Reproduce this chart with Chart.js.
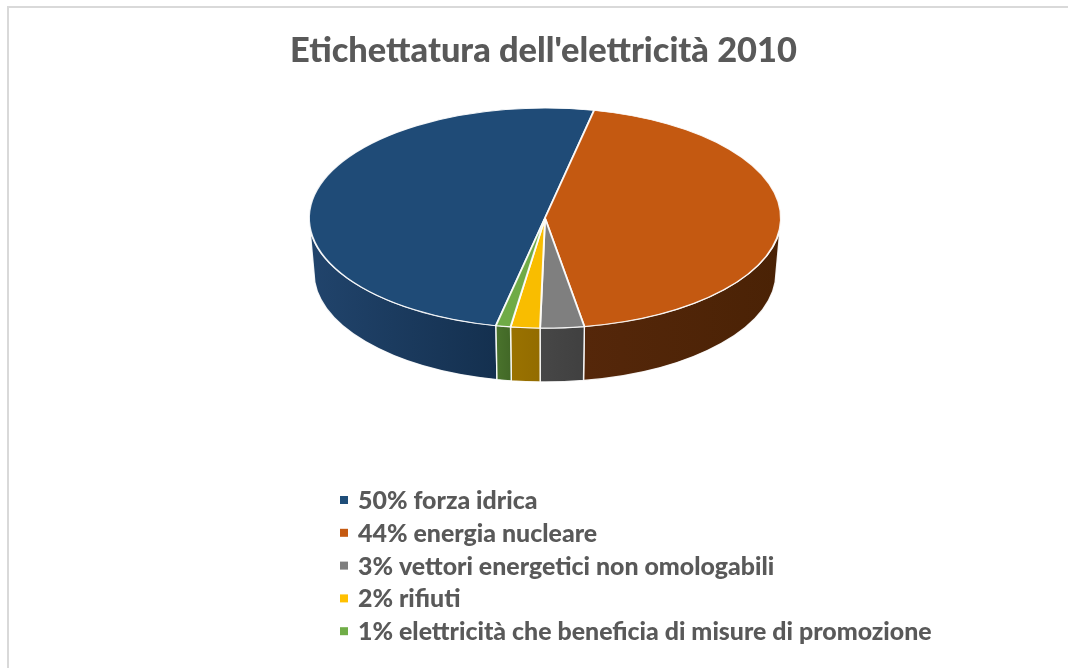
<!DOCTYPE html>
<html>
<head>
<meta charset="utf-8">
<script src="https://cdn.jsdelivr.net/npm/chart.js@4.4.1/dist/chart.umd.min.js"></script>
<style>
  html, body { margin: 0; padding: 0; background: #ffffff; }
  canvas { display: block; }
</style>
</head>
<body>
<canvas id="c" width="1068" height="668"></canvas>
<script>
// ---- data ----
const chartTitle = "Etichettatura dell'elettricità 2010";
const categories = [
  '50% forza idrica',
  '44% energia nucleare',
  '3% vettori energetici non omologabili',
  '2% rifiuti',
  '1% elettricità che beneficia di misure di promozione'
];
const values = [50, 44, 3, 2, 1];

// ---- styles ----
const topColors = ['#1f4b77', '#c45911', '#7f7f7f', '#f9bd00', '#6fab46'];
const legendColors = ['#1f4e79', '#c55a11', '#7f7f7f', '#ffc000', '#70ad47'];
const sideLight = ['#21446c', '#55270a', '#474747', '#9a7200', '#4a732c'];
const sideDark = ['#14304f', '#4a2205', '#404040', '#936c00', '#426827'];
const FONT = 'Lato, "Open Sans", sans-serif';
const WEIGHT = '900';
const TEXT_COLOR = '#595959';

const geo = { cx: 545, cy: 218, rx: 236, ry: 110, depth: 55, rx2: 231, ry2: 109 };

function fitSize(text, target) {
  const m = document.createElement('canvas').getContext('2d');
  m.font = WEIGHT + ' 100px ' + FONT;
  return 100 * target / m.measureText(text).width;
}
const titleSize = fitSize(chartTitle, 507);
const longest = categories.reduce((a, b) => (a.length > b.length ? a : b));
const legendSize = fitSize(longest, 574);

const frame = {
  id: 'frame',
  beforeDraw(chart) {
    const ctx = chart.ctx;
    ctx.save();
    ctx.fillStyle = '#ffffff';
    ctx.fillRect(0, 0, chart.width, chart.height);
    ctx.fillStyle = '#d9d9d9';
    ctx.fillRect(7, 6, chart.width - 7, 2);
    ctx.fillRect(7, 6, 2, chart.height - 6);
    ctx.restore();
  }
};

const pie3d = {
  id: 'pie3d',
  beforeDatasetsDraw(chart) {
    const ctx = chart.ctx;
    const meta = chart.getDatasetMeta(0);
    const { cx, cy, rx, ry, depth, rx2, ry2 } = geo;
    ctx.save();
    meta.data.forEach((el, i) => {
      const s0 = el.startAngle, e0 = el.endAngle;
      for (let k = -2; k <= 2; k++) {
        const s = Math.max(s0 + 2 * Math.PI * k, 0);
        const e = Math.min(e0 + 2 * Math.PI * k, Math.PI);
        if (e <= s) continue;
        const xa = cx + rx * Math.cos(s), xb = cx + rx * Math.cos(e);
        const g = ctx.createLinearGradient(Math.min(xa, xb), 0, Math.max(xa, xb) + 0.01, 0);
        g.addColorStop(0, sideLight[i]);
        g.addColorStop(1, sideDark[i]);
        ctx.beginPath();
        ctx.ellipse(cx, cy, rx, ry, 0, s, e, false);
        ctx.ellipse(cx, cy + depth, rx2, ry2, 0, e, s, true);
        ctx.closePath();
        ctx.fillStyle = g;
        ctx.fill();
        ctx.strokeStyle = 'rgba(255,255,255,0.9)';
        ctx.lineWidth = 1.4;
        ctx.stroke();
      }
    });
    ctx.restore();
    // map the library's circular pie onto the top ellipse
    const el = meta.data[0];
    const R = el.outerRadius;
    ctx.save();
    ctx.translate(cx, cy);
    ctx.scale(rx / R, ry / R);
    ctx.translate(-el.x, -el.y);
  },
  afterDatasetsDraw(chart) {
    chart.ctx.restore();
  }
};

const listLegend = {
  id: 'listLegend',
  afterDraw(chart) {
    const ctx = chart.ctx;
    ctx.save();
    ctx.font = WEIGHT + ' ' + legendSize + 'px ' + FONT;
    ctx.textBaseline = 'middle';
    ctx.textAlign = 'left';
    categories.forEach((label, i) => {
      const y = 500 + i * 32.8;
      ctx.fillStyle = legendColors[i];
      ctx.fillRect(340, y - 4, 8, 8);
      ctx.fillStyle = TEXT_COLOR;
      ctx.fillText(label, 358, y + 1);
    });
    ctx.restore();
  }
};

new Chart(document.getElementById('c'), {
  type: 'pie',
  data: {
    labels: categories,
    datasets: [{
      data: values,
      backgroundColor: topColors,
      borderColor: 'rgba(255,255,255,0.9)',
      borderWidth: 1.6,
      clip: false
    }]
  },
  options: {
    responsive: false,
    animation: false,
    devicePixelRatio: 1,
    events: [],
    rotation: 192,
    layout: { padding: { left: 19, right: 0, top: 0, bottom: 200 } },
    plugins: {
      legend: { display: false },
      tooltip: { enabled: false },
      title: {
        display: true,
        text: chartTitle,
        color: TEXT_COLOR,
        font: { family: FONT, size: titleSize, weight: WEIGHT, lineHeight: 1.2 },
        padding: { top: 51 - titleSize * 0.6, bottom: 10 }
      }
    }
  },
  plugins: [frame, pie3d, listLegend]
});
</script>
</body>
</html>
